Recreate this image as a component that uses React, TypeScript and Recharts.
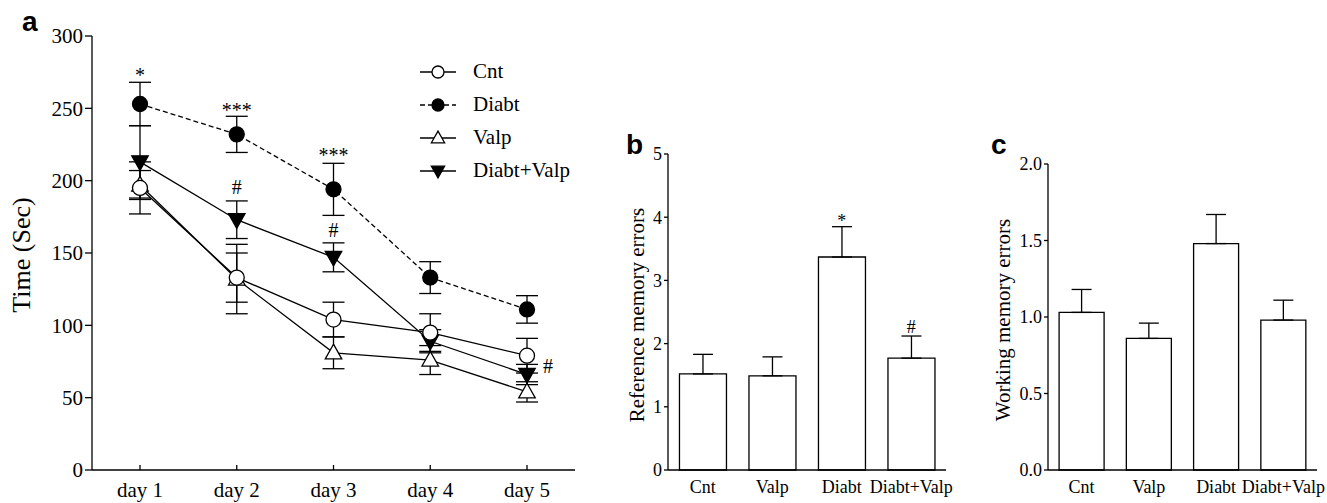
import {
  ComposedChart,
  BarChart,
  Bar,
  Line,
  XAxis,
  YAxis,
  ErrorBar,
  Legend,
  ReferenceDot,
} from "recharts";

const FONT = "'Liberation Serif', 'Times New Roman', Times, serif";
const INK = "#000";

// panel a: escape latency per training day
const days = ["day 1", "day 2", "day 3", "day 4", "day 5"];
const cntTime = [195, 133, 104, 95, 79];
const cntTimeSem = [18, 17, 12, 13, 12];
const diabtTime = [253, 232, 194, 133, 111];
const diabtTimeSem = [15, 12.5, 18, 11, 9.5];
const valpTime = [197, 132, 81, 76, 54];
const valpTimeSem = [10, 24, 11, 10, 7];
const diabtValpTime = [213, 173, 147, 89, 66];
const diabtValpTimeSem = [25, 13, 10, 8, 7];
const timeTicks = [0, 50, 100, 150, 200, 250, 300];

// significance marks over panel a
const timeNotes = [
  { day: "day 1", y: 273, text: "*" },
  { day: "day 2", y: 249, text: "***" },
  { day: "day 3", y: 218, text: "***" },
  { day: "day 2", y: 196, text: "#" },
  { day: "day 3", y: 166, text: "#" },
];
const timeSideNote = { day: "day 5", y: 72, text: "#" };

// panels b and c
const groups = ["Cnt", "Valp", "Diabt", "Diabt+Valp"];
const refErrors = [1.52, 1.49, 3.37, 1.77];
const refErrorsSem = [0.31, 0.3, 0.48, 0.35];
const refTicks = [0, 1, 2, 3, 4, 5];
const refNotes = [
  { group: "Diabt", y: 3.94, text: "*" },
  { group: "Diabt+Valp", y: 2.27, text: "#" },
];

const workErrors = [1.03, 0.86, 1.48, 0.98];
const workErrorsSem = [0.15, 0.1, 0.19, 0.13];
const workTicks = [0, 0.5, 1, 1.5, 2];

const series = [
  { key: "cnt", name: "Cnt", marker: "openCircle", dash: undefined },
  { key: "diabt", name: "Diabt", marker: "filledCircle", dash: "5 3" },
  { key: "valp", name: "Valp", marker: "openUp", dash: undefined },
  { key: "diabtValp", name: "Diabt+Valp", marker: "filledDown", dash: undefined },
];

const timeData = days.map((day, i) => ({
  day,
  cnt: cntTime[i],
  cntErr: cntTimeSem[i],
  diabt: diabtTime[i],
  diabtErr: diabtTimeSem[i],
  valp: valpTime[i],
  valpErr: valpTimeSem[i],
  diabtValp: diabtValpTime[i],
  diabtValpErr: diabtValpTimeSem[i],
}));

// only the upper half of the error bar is drawn on the bars
const refData = groups.map((group, i) => ({
  group,
  value: refErrors[i],
  err: [0, refErrorsSem[i]],
}));
const workData = groups.map((group, i) => ({
  group,
  value: workErrors[i],
  err: [0, workErrorsSem[i]],
}));

function Marker({ kind, cx, cy, size }: { kind: string; cx: number; cy: number; size: number }) {
  const s = size;
  if (kind === "openCircle" || kind === "filledCircle") {
    return (
      <circle
        cx={cx}
        cy={cy}
        r={s}
        fill={kind === "filledCircle" ? INK : "#fff"}
        stroke={INK}
        strokeWidth={1.3}
      />
    );
  }
  const up = kind === "openUp";
  const tip = up ? cy - s * 1.15 : cy + s * 1.15;
  const base = up ? cy + s * 0.8 : cy - s * 0.8;
  return (
    <polygon
      points={`${cx},${tip} ${cx - s * 1.1},${base} ${cx + s * 1.1},${base}`}
      fill={up ? "#fff" : INK}
      stroke={INK}
      strokeWidth={1.3}
      strokeLinejoin="miter"
    />
  );
}

const DayTick = ({ x, y, payload }: any) => (
  <g>
    <line x1={x} x2={x} y1={y} y2={y - 5} stroke={INK} strokeWidth={1.3} />
    <text x={x} y={y + 27} textAnchor="middle" fontFamily={FONT} fontSize={21} fill={INK}>
      {payload.value}
    </text>
  </g>
);

const LegendBox = () => (
  <div style={{ fontFamily: FONT, fontSize: 21, color: INK }}>
    {series.map((s) => (
      <div key={s.key} style={{ display: "flex", alignItems: "center", height: 33 }}>
        <svg width={36} height={20} style={{ marginRight: 17 }}>
          <line x1={0} x2={36} y1={10} y2={10} stroke={INK} strokeWidth={1.3} strokeDasharray={s.dash} />
          <Marker kind={s.marker} cx={18} cy={10} size={6} />
        </svg>
        <span>{s.name}</span>
      </div>
    ))}
  </div>
);

const noteLabel = (text: string, size: number) => ({
  value: text,
  position: "center" as const,
  fontSize: size,
  fontFamily: FONT,
  fill: INK,
});

function TimeChart() {
  // draw order: dashed Diabt first, open markers on top
  const drawOrder = ["diabt", "diabtValp", "valp", "cnt"];
  return (
    <ComposedChart
      width={600}
      height={503}
      data={timeData}
      margin={{ top: 36, right: 25, bottom: 0, left: 32 }}
    >
      <XAxis
        dataKey="day"
        height={33}
        padding={{ left: 48, right: 48 }}
        tickLine={false}
        tickSize={0}
        tickMargin={0}
        axisLine={{ stroke: INK, strokeWidth: 1.3 }}
        tick={<DayTick />}
        interval={0}
      />
      <YAxis
        width={60}
        domain={[0, 300]}
        ticks={timeTicks}
        tickSize={7}
        tickMargin={2}
        axisLine={{ stroke: INK, strokeWidth: 1.3 }}
        tickLine={{ stroke: INK, strokeWidth: 1.3 }}
        tick={{ fill: INK, fontSize: 21, fontFamily: FONT }}
      />
      <Legend
        layout="vertical"
        align="center"
        verticalAlign="middle"
        content={<LegendBox />}
        wrapperStyle={{ left: 420, top: 55, width: 170 }}
      />
      {drawOrder.map((k) => {
        const s = series.find((d) => d.key === k)!;
        return (
          <Line
            key={s.key}
            dataKey={s.key}
            name={s.name}
            type="linear"
            stroke={INK}
            strokeWidth={1.3}
            strokeDasharray={s.dash}
            isAnimationActive={false}
            activeDot={false}
            dot={(p: any) => (
              <Marker key={`${s.key}-${p.index}`} kind={s.marker} cx={p.cx} cy={p.cy} size={7.5} />
            )}
          >
            <ErrorBar dataKey={`${s.key}Err`} width={11} stroke={INK} strokeWidth={1.3} />
          </Line>
        );
      })}
      {timeNotes.map((n, i) => (
        <ReferenceDot
          key={i}
          x={n.day}
          y={n.y}
          r={0}
          fill="none"
          stroke="none"
          label={noteLabel(n.text, 20)}
        />
      ))}
      <ReferenceDot
        x={timeSideNote.day}
        y={timeSideNote.y}
        r={0}
        fill="none"
        stroke="none"
        label={{ ...noteLabel(timeSideNote.text, 20), position: "right", offset: 16 }}
      />
    </ComposedChart>
  );
}

function ErrorsChart({
  data,
  ticks,
  domainMax,
  width,
  leftMargin,
  axisWidth,
  rightMargin,
  top,
  notes,
  fmt,
}: any) {
  return (
    <BarChart
      width={width}
      height={503}
      data={data}
      barCategoryGap="16.5%"
      margin={{ top, right: rightMargin, bottom: 0, left: leftMargin }}
    >
      <XAxis
        dataKey="group"
        height={33}
        tickLine={false}
        tickSize={0}
        tickMargin={10}
        interval={0}
        axisLine={{ stroke: INK, strokeWidth: 1.3 }}
        tick={{ fill: INK, fontSize: 18, fontFamily: FONT }}
      />
      <YAxis
        width={axisWidth}
        domain={[0, domainMax]}
        ticks={ticks}
        tickSize={4}
        tickMargin={2}
        tickFormatter={fmt}
        axisLine={{ stroke: INK, strokeWidth: 1.3 }}
        tickLine={{ stroke: INK, strokeWidth: 1.3 }}
        tick={{ fill: INK, fontSize: 18, fontFamily: FONT }}
      />
      <Bar dataKey="value" fill="#fff" stroke={INK} strokeWidth={1.3} isAnimationActive={false}>
        <ErrorBar dataKey="err" width={10} stroke={INK} strokeWidth={1.3} direction="y" />
      </Bar>
      {notes.map((n: any, i: number) => (
        <ReferenceDot
          key={i}
          x={n.group}
          y={n.y}
          r={0}
          fill="none"
          stroke="none"
          label={noteLabel(n.text, 18)}
        />
      ))}
    </BarChart>
  );
}

const abs = (left: number, top: number) => ({ position: "absolute" as const, left, top });

const panelLetter = (left: number, top: number) => ({
  ...abs(left, top),
  fontFamily: "'Liberation Sans', Arial, sans-serif",
  fontWeight: 700,
  fontSize: 28,
  lineHeight: 1,
  color: INK,
});

const axisTitle = (cx: number, cy: number, size: number) => ({
  ...abs(cx, cy),
  transform: "translate(-50%, -50%) rotate(-90deg)",
  whiteSpace: "nowrap" as const,
  fontFamily: FONT,
  fontSize: size,
  lineHeight: 1,
  color: INK,
});

export default function App() {
  return (
    <div style={{ ...abs(0, 0), width: 1327, height: 503, background: "#fff", overflow: "hidden" }}>
      <div style={abs(0, 0)}>
        <TimeChart />
      </div>
      <div style={abs(560, 0)}>
        <ErrorsChart
          data={refData}
          ticks={refTicks}
          domainMax={5}
          width={400}
          leftMargin={68}
          axisWidth={40}
          rightMargin={14}
          top={154}
          notes={refNotes}
          fmt={(v: number) => String(v)}
        />
      </div>
      <div style={abs(950, 0)}>
        <ErrorsChart
          data={workData}
          ticks={workTicks}
          domainMax={2}
          width={377}
          leftMargin={53}
          axisWidth={45}
          rightMargin={10}
          top={164}
          notes={[]}
          fmt={(v: number) => v.toFixed(1)}
        />
      </div>

      <div style={panelLetter(22, 8)}>a</div>
      <div style={panelLetter(626, 131)}>b</div>
      <div style={panelLetter(991, 131)}>c</div>

      <div style={axisTitle(22, 255, 26)}>Time (Sec)</div>
      <div style={axisTitle(637, 315, 21)}>Reference memory errors</div>
      <div style={axisTitle(1003, 320, 21)}>Working memory errors</div>
    </div>
  );
}
